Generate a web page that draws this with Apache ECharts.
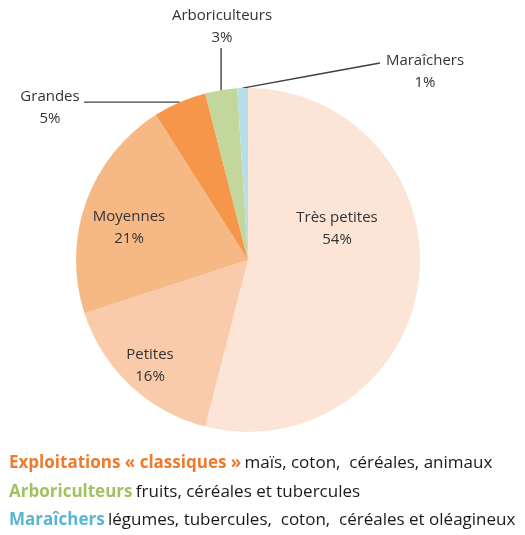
<!DOCTYPE html>
<html>
<head>
<meta charset="utf-8">
<script src="https://cdn.jsdelivr.net/npm/echarts@6/dist/echarts.min.js"></script>
<style>
  html, body { margin: 0; padding: 0; background: #fff; }
  #chart { width: 525px; height: 535px; }
</style>
</head>
<body>
<div id="chart"></div>
<script>
// Répartition des exploitations par type
const categories = ['Très petites', 'Petites', 'Moyennes', 'Grandes', 'Arboriculteurs', 'Maraîchers'];
const shares = [54, 16, 21, 5, 3, 1];
const sliceColors = ['#FCE5D6', '#F9CBAB', '#F6B884', '#F5964A', '#C3D69B', '#B7DDE8'];
const outsideLabels = ['Grandes', 'Arboriculteurs', 'Maraîchers'];

// Légende descriptive sous le graphique
const noteTitles = ['Exploitations « classiques »', 'Arboriculteurs', 'Maraîchers'];
const noteTexts = ['maïs, coton,  céréales, animaux', 'fruits, céréales et tubercules', 'légumes, tubercules,  coton,  céréales et oléagineux'];
const noteColors = ['#EE7A2E', '#A0C262', '#58B6D2'];

const FONT = '"Open Sans", Lato, sans-serif';

// Position of each label (centre x, top y) and, for outer labels, the leader line end
const labelPlacement = {
  'Très petites':   { x: 337, y: 207 },
  'Petites':        { x: 150, y: 344 },
  'Moyennes':       { x: 129, y: 206 },
  'Grandes':        { x: 50,  y: 86, lineEnd: [84, null] },
  'Arboriculteurs': { x: 222, y: 5,  lineEnd: [null, 48] },
  'Maraîchers':     { x: 425, y: 50, lineEnd: [380, 63] }
};

const chart = echarts.init(document.getElementById('chart'), null, { renderer: 'canvas' });

const data = categories.map((name, i) => {
  const outer = outsideLabels.includes(name);
  return {
    name,
    value: shares[i],
    itemStyle: { color: sliceColors[i] },
    label: { position: outer ? 'outside' : 'inside' },
    labelLine: { show: outer }
  };
});

const graphics = noteTitles.map((t, i) => ({
  type: 'text',
  left: 9,
  top: 455 + i * 28.5,
  style: {
    text: '{t|' + t + '} {d|' + noteTexts[i] + '}',
    rich: {
      t: { fontFamily: FONT, fontSize: 17, fontWeight: 'bold', fill: noteColors[i] },
      d: { fontFamily: FONT, fontSize: 17, fill: '#1a1a1a' }
    }
  }
}));

chart.setOption({
  backgroundColor: '#ffffff',
  animation: false,
  graphic: graphics,
  series: [{
    type: 'pie',
    center: [248, 260],
    radius: 172,
    startAngle: 90,
    clockwise: true,
    data,
    label: {
      formatter: '{b}\n{c}%',
      fontFamily: FONT,
      fontSize: 15,
      lineHeight: 22,
      color: '#333333',
      align: 'center',
      overflow: 'none',
      edgeDistance: 0
    },
    labelLine: {
      lineStyle: { color: '#404040', width: 1.4 }
    },
    emphasis: { disabled: true },
    labelLayout: function (params) {
      const name = categories[params.dataIndex];
      const p = labelPlacement[name];
      const out = { x: p.x, y: p.y, align: 'center', verticalAlign: 'top' };
      if (p.lineEnd && params.labelLinePoints) {
        const a = params.labelLinePoints[0];
        const end = [p.lineEnd[0] == null ? a[0] : p.lineEnd[0], p.lineEnd[1] == null ? a[1] : p.lineEnd[1]];
        const mid = [(a[0] + end[0]) / 2, (a[1] + end[1]) / 2];
        out.labelLinePoints = [a, mid, end];
      }
      return out;
    }
  }]
});
</script>
</body>
</html>
